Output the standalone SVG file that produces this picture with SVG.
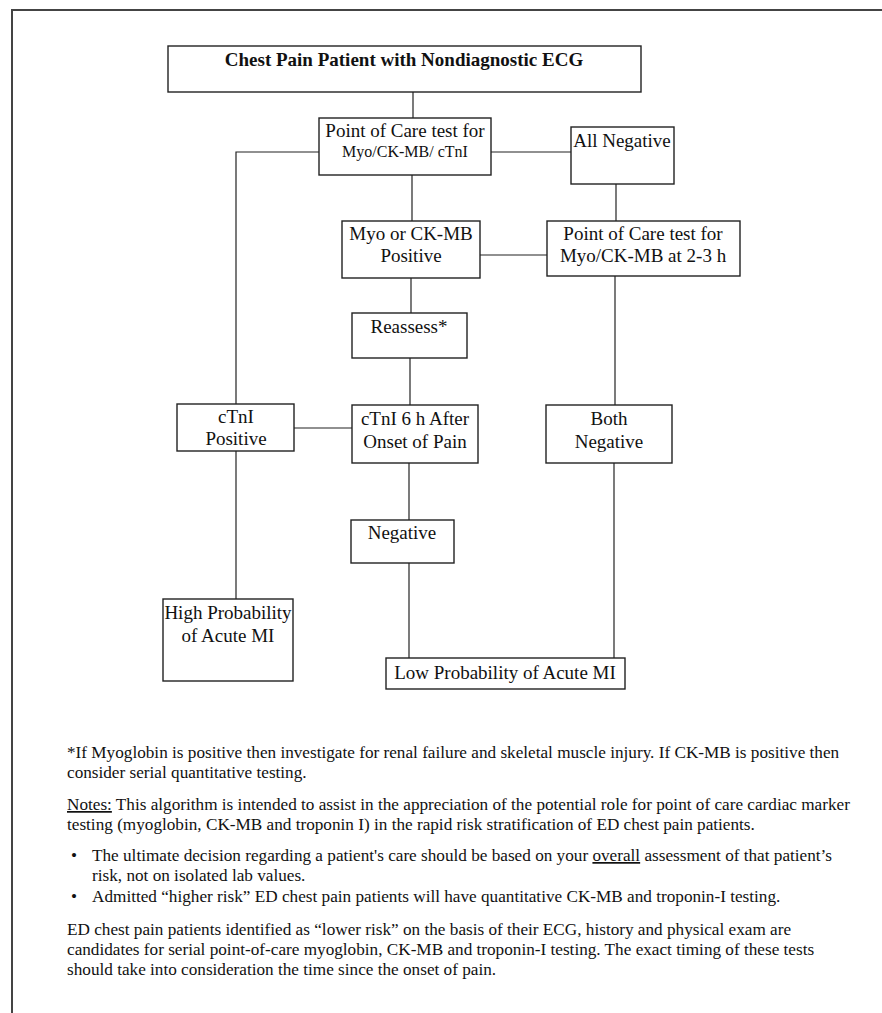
<svg xmlns="http://www.w3.org/2000/svg" width="882" height="1013" viewBox="0 0 882 1013">
<style>
.box{fill:#fff;stroke:#222;stroke-width:1.4}
.ln{stroke:#222;stroke-width:1.2;fill:none}
.t{font-family:"Liberation Serif","Times New Roman",serif;fill:#111;text-anchor:middle;font-size:19px}
.s{font-size:16px}
.hb{font-weight:bold}
.b{font-family:"Liberation Serif","Times New Roman",serif;fill:#111;font-size:17.2px}
.u{text-decoration:underline}
</style>
<rect width="882" height="1013" fill="#fff"/>
<path d="M12 1013 V10 H882" stroke="#444" stroke-width="2" fill="none"/>
<g id="connectors" class="ln">
<path d="M413 92 V118"/>
<path d="M319 152 H236 V404"/>
<path d="M236 451 V599"/>
<path d="M491 152 H571"/>
<path d="M616 184 V221"/>
<path d="M615 276 V405"/>
<path d="M614 463 V658"/>
<path d="M412 175 V221"/>
<path d="M411 278 V313"/>
<path d="M410 358 V405"/>
<path d="M409 463 V520"/>
<path d="M409 563 V658"/>
<path d="M480 255 H547"/>
<path d="M294 428 H352"/>
</g>
<g id="title"><rect class="box" x="168" y="46" width="473" height="46"/><text class="t hb" x="404" y="66">Chest Pain Patient with Nondiagnostic ECG</text></g>
<g id="poc1"><rect class="box" x="319" y="118" width="172" height="57"/><text class="t" x="405" y="137">Point of Care test for</text><text class="t s" x="405" y="157">Myo/CK-MB/ cTnI</text></g>
<g id="allneg"><rect class="box" x="571" y="127" width="103" height="57"/><text class="t" x="622" y="147">All Negative</text></g>
<g id="myo"><rect class="box" x="342" y="221" width="138" height="57"/><text class="t" x="411" y="240">Myo or CK-MB</text><text class="t" x="411" y="262">Positive</text></g>
<g id="poc2"><rect class="box" x="547" y="221" width="193" height="55"/><text class="t" x="643" y="240">Point of Care test for</text><text class="t" x="643" y="262">Myo/CK-MB at 2-3 h</text></g>
<g id="reassess"><rect class="box" x="352" y="313" width="115" height="45"/><text class="t" x="409" y="333">Reassess*</text></g>
<g id="ctnipos"><rect class="box" x="177" y="404" width="117" height="47"/><text class="t" x="236" y="423">cTnI</text><text class="t" x="236" y="445">Positive</text></g>
<g id="ctni6"><rect class="box" x="352" y="405" width="126" height="58"/><text class="t" x="415" y="425">cTnI 6 h After</text><text class="t" x="415" y="448">Onset of Pain</text></g>
<g id="bothneg"><rect class="box" x="546" y="405" width="126" height="58"/><text class="t" x="609" y="425">Both</text><text class="t" x="609" y="448">Negative</text></g>
<g id="neg"><rect class="box" x="351" y="520" width="103" height="43"/><text class="t" x="402" y="539">Negative</text></g>
<g id="high"><rect class="box" x="163" y="599" width="130" height="82"/><text class="t" x="228" y="619">High Probability</text><text class="t" x="228" y="642">of Acute MI</text></g>
<g id="low"><rect class="box" x="386" y="658" width="239" height="31"/><text class="t" x="505" y="679">Low Probability of Acute MI</text></g>
<g id="notes" class="b" xml:space="preserve">
<text x="67" y="758">*If Myoglobin is positive then investigate for renal failure and skeletal muscle injury.  If CK-MB is positive then</text>
<text x="67" y="778">consider serial quantitative testing.</text>
<text x="67" y="810"><tspan class="u">Notes:</tspan> This algorithm is intended to assist in the appreciation of the potential role for point of care cardiac marker</text>
<text x="67" y="830">testing (myoglobin, CK-MB and troponin I) in the rapid risk stratification of ED chest pain patients.</text>
<text x="71" y="861">•</text>
<text x="92" y="861">The ultimate decision regarding a patient's care should be based on your <tspan class="u">overall</tspan> assessment of that patient’s</text>
<text x="92" y="881">risk, not on isolated lab values.</text>
<text x="71" y="902">•</text>
<text x="92" y="902">Admitted  “higher risk” ED chest pain patients will have quantitative CK-MB and troponin-I testing.</text>
<text x="67" y="935">ED chest pain patients identified as “lower risk” on the basis of their ECG, history and physical exam are</text>
<text x="67" y="955">candidates for serial point-of-care myoglobin, CK-MB and troponin-I testing. The exact timing of these tests</text>
<text x="67" y="975">should take into consideration the time since the onset of pain.</text>
</g>
</svg>
